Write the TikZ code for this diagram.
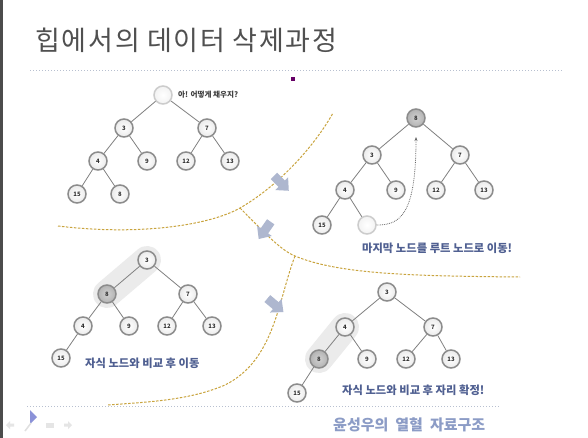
\documentclass[tikz,border=0pt]{standalone}
\usepackage{fontspec}
\newfontfamily\cjk{Noto Sans CJK KR}
\newfontfamily\cjktitle{Noto Sans CJK KR}[LetterSpace=7]
\usetikzlibrary{arrows.meta}
\definecolor{titlegray}{HTML}{505050}
\definecolor{gold}{HTML}{C9A43E}
\definecolor{slate}{HTML}{4F5F91}
\definecolor{footblue}{HTML}{8C9CC6}
\definecolor{arrowfill}{HTML}{AEB7CF}
\definecolor{sepline}{HTML}{B8C0D0}
\tikzset{
  hn/.style={circle, minimum size=18pt, inner sep=0pt, draw=black!45, line width=1.5pt,
    inner color=white, outer color=black!8, font=\cjk\bfseries\fontsize{6}{6}\selectfont, text=black!80},
  hg/.style={hn, inner color=black!18, outer color=black!30},
  he/.style={hn, draw=black!20, inner color=white, outer color=black!5},
  ed/.style={draw=black!50, line width=0.8pt},
  cut/.style={draw=gold, line width=1pt, dashed, dash pattern=on 2.5pt off 1.5pt},
  hl/.style={draw=black!8, line width=28pt, line cap=round},
  note/.style={font=\cjk\bfseries\fontsize{11.3}{11.3}\selectfont, text=slate, inner sep=0pt},
  blockarrow/.pic={\fill[arrowfill] (-10,-4.5) -- (1,-4.5) -- (1,-9) -- (11,0) -- (1,9) -- (1,4.5) -- (-10,4.5) -- cycle;},
}
\begin{document}
\begin{tikzpicture}[x=1pt,y=-1pt]
\useasboundingbox (0,0) rectangle (588,438);
\fill[white] (0,0) rectangle (588,438);
\fill[black!70] (0,0) rectangle (2.5,438);
% title
\node[anchor=west, inner sep=0pt, text=titlegray, font=\cjktitle\fontsize{27}{27}\selectfont] (title) at (35,40) {힙에서의\hspace{7pt}데이터\hspace{7pt}삭제과정};
\coordinate (s1a) at (30,71); \coordinate (s1b) at (562,71);
\draw[sepline, line width=1pt, dotted] (s1a) -- (s1b);
\node[fill=violet!80!black, minimum size=4pt, inner sep=0pt] (sq) at (293,79) {};
\coordinate (s2a) at (27,406); \coordinate (s2b) at (500,406);
\draw[sepline, line width=1pt, dotted] (s2a) -- (s2b);
% cut lines
\coordinate (c1a) at (58,226); \coordinate (j1) at (240,208); \coordinate (c1b) at (333,113);
\coordinate (j2) at (295,256); \coordinate (c2b) at (520,277);
\coordinate (c3b) at (107,405);
\draw[cut] (c1a) .. controls (140,236) and (210,225) .. (j1) .. controls (280,185) and (315,145) .. (c1b);
\draw[cut] (j1) .. controls (262,230) and (280,250) .. (j2) .. controls (340,275) and (420,276) .. (c2b);
\draw[cut] (j2) .. controls (278,300) and (275,360) .. (225,385) .. controls (190,400) and (150,402) .. (c3b);
\pic[rotate=-45] at (281,183) {blockarrow};
\pic[rotate=-125] at (265,230) {blockarrow};
\pic[rotate=-40] at (275,305) {blockarrow};
% tree 1
\node[he] (a0) at (163,95) {};
\node[anchor=west, inner sep=0pt, font=\cjk\bfseries\fontsize{7.6}{7.6}\selectfont, text=black!75] (q) at (178,95) {아! 어떻게 채우지?};
\node[hn] (a3) at (124,128) {3};
\node[hn] (a7) at (207,128) {7};
\node[hn] (a4) at (98,161) {4};
\node[hn] (a9) at (147,161) {9};
\node[hn] (a12) at (186,161) {12};
\node[hn] (a13) at (230,161) {13};
\node[hn] (a15) at (77,194) {15};
\node[hn] (a8) at (120,194) {8};
\draw[ed] (a0)--(a3) (a0)--(a7) (a3)--(a4) (a3)--(a9) (a7)--(a12) (a7)--(a13) (a4)--(a15) (a4)--(a8);
% tree 2
\node[hg] (b8) at (416,118) {8};
\node[hn] (b3) at (372,155) {3};
\node[hn] (b7) at (460,155) {7};
\node[hn] (b4) at (345,190) {4};
\node[hn] (b9) at (396,190) {9};
\node[hn] (b12) at (436,190) {12};
\node[hn] (b13) at (484,190) {13};
\node[hn] (b15) at (322,225) {15};
\node[he] (be) at (367,225) {};
\draw[ed] (b8)--(b3) (b8)--(b7) (b3)--(b4) (b3)--(b9) (b7)--(b12) (b7)--(b13) (b4)--(b15) (b4)--(be);
\coordinate (bt) at (416,137);
\draw[black!60, line width=0.8pt, densely dotted, -{Stealth[length=4pt]}] (be.east) .. controls (400,225) and (416,215) .. (bt);
\node[note, anchor=west] (t2) at (362,248) {마지막 노드를 루트 노드로 이동!};
% tree 3
\draw[hl] (147,260) -- (107,294);
\node[hn] (c3) at (147,260) {3};
\node[hg] (c8) at (107,294) {8};
\node[hn] (c7) at (188,294) {7};
\node[hn] (c4) at (83,326) {4};
\node[hn] (c9) at (129,326) {9};
\node[hn] (c12) at (167,326) {12};
\node[hn] (c13) at (212,326) {13};
\node[hn] (c15) at (61,358) {15};
\draw[ed] (c3)--(c8) (c3)--(c7) (c8)--(c4) (c8)--(c9) (c7)--(c12) (c7)--(c13) (c4)--(c15);
\node[note, anchor=west] (t3) at (85,363) {자식 노드와 비교 후 이동};
% tree 4
\draw[hl] (345,327) -- (319,359);
\node[hn] (d3) at (387,292) {3};
\node[hn] (d4) at (345,327) {4};
\node[hn] (d7) at (433,327) {7};
\node[hg] (d8) at (319,359) {8};
\node[hn] (d9) at (367,359) {9};
\node[hn] (d12) at (406,359) {12};
\node[hn] (d13) at (451,359) {13};
\node[hn] (d15) at (297,393) {15};
\draw[ed] (d3)--(d4) (d3)--(d7) (d4)--(d8) (d4)--(d9) (d7)--(d12) (d7)--(d13) (d8)--(d15);
\node[note, anchor=west] (t4) at (342,390) {자식 노드와 비교 후 자리 확정!};
% footer
\node[anchor=west, inner sep=0pt, text=footblue, font=\cjk\bfseries\fontsize{15}{15}\selectfont] (foot) at (333,425) {윤성우의\hspace{7pt}열혈\hspace{7pt}자료구조};
% nav icons
\fill[arrowfill!80!blue] (30,410) -- (37,417) -- (30,424) -- cycle;
\fill[black!10] (6,425) -- (10,421) -- (10,423.5) -- (14,423.5) -- (14,426.5) -- (10,426.5) -- (10,429) -- cycle;
\draw[black!12, line width=1.5pt] (25,431) -- (31,423);
\fill[black!10] (46,423) rectangle (54,428);
\fill[black!10] (72,425) -- (68,421) -- (68,423.5) -- (64,423.5) -- (64,426.5) -- (68,426.5) -- (68,429) -- cycle;
\end{tikzpicture}
\end{document}
